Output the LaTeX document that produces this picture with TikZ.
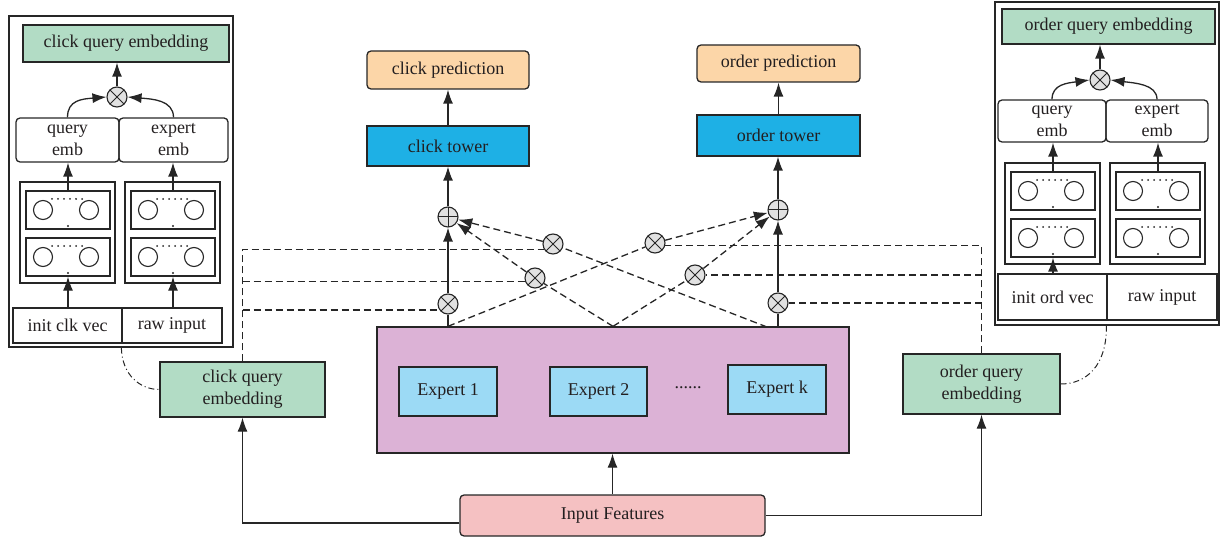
\documentclass[tikz,border=0pt]{standalone}
\usepackage{fontspec}
\setmainfont{Liberation Serif}
\usetikzlibrary{arrows.meta}

\definecolor{lc}{HTML}{262626}
\definecolor{txt}{HTML}{231F20}
\definecolor{gq}{HTML}{B2DCC5}
\definecolor{pe}{HTML}{FCD6A8}
\definecolor{tb}{HTML}{1EB0E5}
\definecolor{eb}{HTML}{9CDAF5}
\definecolor{mp}{HTML}{DCB2D6}
\definecolor{ip}{HTML}{F5C1C2}
\definecolor{cg}{HTML}{E1E1E1}

\tikzset{
  box/.style={draw=lc, line width=1.3pt, inner sep=0pt, align=center, text=txt},
  rbox/.style={box, rounded corners=4pt},
  sz/.style 2 args={minimum width=#1pt, minimum height=#2pt},
  arr/.style={draw=lc, line width=1.3pt, -{Latex[length=14pt,width=10pt]}},
  plain/.style={draw=lc, line width=1.3pt},
  dsh/.style={draw=lc, line width=1.3pt, dash pattern=on 7pt off 4pt},
  darr/.style={dsh, -{Latex[length=14pt,width=10pt]}},
  ddot/.style={draw=lc, line width=1pt, dash pattern=on 6pt off 3pt on 1pt off 3pt},
  otimes/.style={circle, draw=lc, line width=1.1pt, fill=cg, minimum size=20pt, inner sep=0pt,
    path picture={\draw[lc, line width=1pt]
      (path picture bounding box.north west) -- (path picture bounding box.south east)
      (path picture bounding box.north east) -- (path picture bounding box.south west);}},
  oplus/.style={circle, draw=lc, line width=1.1pt, fill=cg, minimum size=20pt, inner sep=0pt,
    path picture={\draw[lc, line width=1pt]
      (path picture bounding box.north) -- (path picture bounding box.south)
      (path picture bounding box.east) -- (path picture bounding box.west);}},
  % two stacked layers of neurons
  stackpic/.pic={
    \node[box, sz={95}{101}] (-out) at (47.5,50.5) {};
    \foreach \yy/\nm in {28/a,75/b}{
      \node[box, sz={84}{38}] (-\nm) at (48,\yy) {};
      \draw[lc, line width=1.1pt] (23,\yy) circle (9.5pt) (69,\yy) circle (9.5pt);
      \foreach \dx in {0,...,5} \fill[lc] (32+6*\dx,\yy-11) circle (1pt);
      \fill[lc] (48,\yy+16) circle (1.2pt);
    }
  }
}

\begin{document}
\begin{tikzpicture}[x=1pt, y=-1pt, font=\fontsize{18}{22}\selectfont]
\useasboundingbox (0,0) rectangle (1220,537);

% ---------- click query embedding detail ----------
\node[box, sz={224}{331}] (lpanel) at (121,181.5) {};
\node[box, fill=gq, sz={206}{37}] (lqe) at (126,43.5) {click query embedding};
\node[otimes] (lmul) at (117,97) {};
\node[rbox, sz={103}{44}] (lq) at (67.5,140) {query\\emb};
\node[rbox, sz={109}{44}] (le) at (173.5,140) {expert\\emb};
\pic (ls) at (20,182) {stackpic};
\pic (lr) at (125,182) {stackpic};
\node[box, sz={109}{35}] (lin1) at (67.5,325.5) {init clk vec};
\node[box, sz={100}{35}] (lin2) at (172,325.5) {raw input};

\draw[arr] (ls-b.south |- lin1.north) -- (ls-b.south);
\draw[arr] (lr-b.south |- lin2.north) -- (lr-b.south);
\draw[arr] (ls-a.north) -- (ls-a.north |- lq.south);
\draw[arr] (lr-a.north) -- (lr-a.north |- le.south);
\draw[arr] (lq.north) .. controls (67.5,100) and (82,99) .. (lmul.west);
\draw[arr] (le.north) .. controls (173.5,100) and (152,99) .. (lmul.east);
\draw[arr] (lmul.north) -- (lmul.north |- lqe.south);

% ---------- order query embedding detail ----------
\node[box, sz={224}{323}] (rpanel) at (1107,163.5) {};
\node[box, fill=gq, sz={213}{35}] (rqe) at (1108.5,26.5) {order query embedding};
\node[otimes] (rmul) at (1100,80) {};
\node[rbox, sz={108}{42}] (rq) at (1052,121) {query\\emb};
\node[rbox, sz={102}{42}] (re) at (1157,121) {expert\\emb};
\pic (rs) at (1005,163) {stackpic};
\pic (rr) at (1110,163) {stackpic};
\node[box, sz={109}{46}] (rin1) at (1052.5,297) {init ord vec};
\node[box, sz={110}{46}] (rin2) at (1162,297) {raw input};

\draw[arr] (rs-b.south |- rin1.north) -- (rs-b.south);
\draw[arr] (rs-a.north) -- (rs-a.north |- rq.south);
\draw[arr] (rr-a.north) -- (rr-a.north |- re.south);
\draw[arr] (rq.north) .. controls (1052,84) and (1068,83) .. (rmul.west);
\draw[arr] (re.north) .. controls (1157,84) and (1134,83) .. (rmul.east);
\draw[arr] (rmul.north) -- (rmul.north |- rqe.south);

% ---------- task towers ----------
\node[rbox, fill=pe, sz={162}{38}] (cpred) at (448,70) {click prediction};
\node[box, fill=tb, sz={162}{40}] (ctower) at (448,146) {click tower};
\node[rbox, fill=pe, sz={163}{37}] (opred) at (778.5,63.5) {order prediction};
\node[box, fill=tb, sz={163}{41}] (otower) at (778.5,135.5) {order tower};

\node[oplus] (cplus) at (448,217) {};
\node[oplus] (oplus) at (778,210) {};

\node[otimes] (cm1) at (448,304) {};
\node[otimes] (cm2) at (535,278) {};
\node[otimes] (cm3) at (553,244) {};
\node[otimes] (om1) at (655,243) {};
\node[otimes] (om2) at (695,275) {};
\node[otimes] (om3) at (778,303) {};

% ---------- experts ----------
\node[box, fill=mp, sz={472}{126}] (moe) at (613,390) {};
\node[box, fill=eb, sz={98}{49}] (e1) at (448,391.5) {Expert 1};
\node[box, fill=eb, sz={97}{49}] (e2) at (598.5,391.5) {Expert 2};
\node[text=txt] (edots) at (688,388) {......};
\node[box, fill=eb, sz={98}{49}] (ek) at (777,389.5) {Expert k};

\node[rbox, fill=ip, sz={305}{41}] (inp) at (612.5,515.5) {Input Features};
\node[box, fill=gq, sz={165}{55}] (cqe) at (242.5,389.5) {click query\\embedding};
\node[box, fill=gq, sz={157}{60}] (oqe) at (981.5,384) {order query\\embedding};

% ---------- connectors ----------
\coordinate (b1) at (moe.north -| cm1);
\coordinate (b2) at (moe.north);
\coordinate (b3) at (767,327);
\coordinate (b4) at (moe.north -| om3);

\draw[plain] (b1) -- (cm1);
\draw[arr] (cm1) -- (cplus);
\draw[arr] (cplus) -- (ctower);
\draw[arr] (ctower) -- (cpred);
\draw[plain] (b4) -- (om3);
\draw[arr] (om3) -- (oplus);
\draw[arr] (oplus) -- (oplus |- otower.south);
\draw[arr] (otower) -- (opred);

\draw[dsh] (b1) -- (om1);
\draw[darr] (om1) -- (oplus);
\draw[dsh] (b2) -- (cm2);
\draw[darr] (cm2) -- (cplus);
\draw[dsh] (b2) -- (om2);
\draw[darr] (om2) -- (oplus);
\draw[dsh] (b3) -- (cm3);
\draw[darr] (cm3) -- (cplus);

\draw[dsh] (cqe.north) -- (cqe.north |- cm3.212) -- (cm3.212);
\draw[dsh] (cqe.north |- cm2.200) -- (cm2.200);
\draw[dsh] (cqe.north |- cm1.215) -- (cm1.215);
\draw[dsh] (oqe.north) -- (oqe.north |- om1.-15) -- (om1.-15);
\draw[dsh] (oqe.north |- om2.east) -- (om2.east);
\draw[dsh] (oqe.north |- om3.east) -- (om3.east);

\draw[arr] ([yshift=-7.5pt]inp.west) -| (cqe.south);
\draw[arr] (inp.east) -| (oqe.south);
\draw[arr] (inp.north) -- (inp.north |- moe.south);

\draw[ddot] (lpanel.south -| lin2.west) .. controls (122,375) and (140,389.5) .. (cqe.west);
\draw[ddot] (rpanel.south -| rin2.west) .. controls (1107,366) and (1086,384) .. (oqe.east);
\end{tikzpicture}
\end{document}
